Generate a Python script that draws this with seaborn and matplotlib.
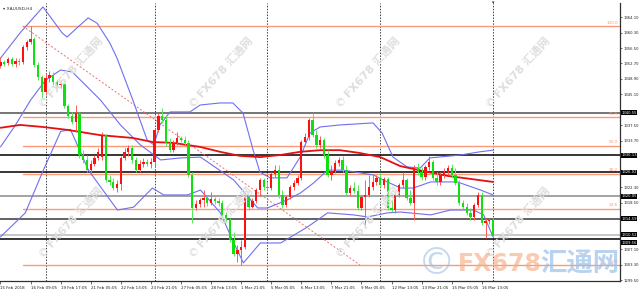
import numpy as np
import pandas as pd
import matplotlib
matplotlib.use("Agg")
import matplotlib.pyplot as plt
import seaborn as sns
from matplotlib.transforms import blended_transform_factory as btf

sns.set_style("white")
plt.rcParams['font.family'] = ['DejaVu Sans', 'Noto Sans CJK SC']

# ---------------- data (XAUUSD H4) ----------------
open_ = [1352.1,1353.1,1352.8,1353.8,1352.6,1353.3,1353.1,1356.8,1358.0,1358.7,
         1352.3,1349.4,1345.7,1349.1,1349.9,1348.2,1347.4,1347.7,1342.3,1339.8,
         1338.3,1340.5,1330.2,1329.0,1326.5,1328.0,1329.5,1329.7,1335.1,1324.1,
         1323.6,1322.1,1323.1,1329.5,1331.0,1331.9,1329.0,1326.5,1328.0,1328.5,
         1328.0,1328.5,1336.4,1339.8,1338.8,1333.2,1331.4,1333.2,1334.4,1333.9,
         1333.2,1325.3,1317.2,1318.2,1319.2,1319.7,1318.4,1319.4,1318.9,1318.4,
         1315.5,1314.2,1309.3,1305.9,1306.9,1307.6,1319.9,1317.4,1318.9,1321.6,
         1324.1,1322.4,1322.1,1325.5,1326.5,1320.4,1317.9,1319.9,1322.4,1323.3,
         1324.6,1333.4,1334.6,1338.8,1335.1,1332.7,1333.9,1330.2,1325.3,1326.3,
         1328.3,1329.0,1326.5,1320.9,1322.1,1321.4,1317.2,1319.9,1320.4,1322.4,
         1323.6,1324.6,1322.8,1324.3,1317.2,1316.7,1320.4,1322.8,1324.1,1319.7,
         1318.4,1327.0,1326.0,1324.8,1327.3,1328.5,1324.6,1323.6,1325.3,1326.0,
         1327.0,1325.3,1323.3,1318.4,1317.4,1316.0,1315.0,1317.9,1320.4,1313.5,
         1314.0,1314.2]
close = [1353.1,1352.6,1353.8,1352.6,1353.3,1353.1,1356.8,1358.0,1358.7,1352.3,
         1349.4,1345.7,1349.1,1349.9,1348.2,1347.4,1347.7,1342.3,1339.8,1338.3,
         1340.5,1330.2,1329.0,1326.5,1328.0,1329.5,1331.0,1335.1,1324.1,1323.6,
         1322.1,1323.1,1329.5,1331.0,1331.9,1329.0,1326.5,1328.0,1328.5,1328.0,
         1328.5,1336.4,1339.8,1338.8,1333.2,1331.4,1333.2,1334.4,1333.9,1333.2,
         1325.3,1317.2,1318.2,1319.2,1319.7,1318.4,1319.4,1318.9,1318.4,1315.5,
         1314.2,1309.3,1305.9,1306.9,1307.6,1319.9,1317.4,1318.9,1321.6,1324.1,
         1322.4,1322.1,1325.5,1326.5,1320.4,1317.9,1319.9,1322.4,1323.3,1324.6,
         1333.4,1334.6,1338.8,1335.1,1332.7,1333.9,1330.2,1325.3,1326.3,1328.3,
         1329.0,1326.5,1320.9,1322.1,1321.4,1317.2,1319.9,1320.4,1322.4,1323.6,
         1324.6,1322.8,1324.3,1317.2,1316.7,1320.4,1322.8,1324.1,1319.7,1318.4,
         1327.0,1326.0,1324.8,1327.3,1328.5,1324.6,1323.6,1325.3,1326.0,1327.0,
         1325.3,1323.3,1318.4,1317.4,1316.0,1315.0,1317.9,1320.4,1313.5,1314.0,
         1314.2,1310.3]
high = [1354.3,1353.6,1354.3,1354.3,1354.0,1354.0,1357.2,1358.5,1361.9,1359.2,
        1353.1,1349.9,1350.4,1350.9,1350.6,1348.6,1348.6,1348.2,1342.7,1340.8,
        1342.5,1340.8,1331.4,1330.2,1329.0,1330.2,1331.9,1335.9,1335.4,1325.3,
        1324.6,1324.1,1330.0,1331.9,1332.7,1332.7,1329.7,1329.0,1329.5,1329.2,
        1329.5,1336.9,1340.5,1341.8,1340.0,1334.4,1333.9,1335.9,1334.9,1334.9,
        1333.9,1326.0,1319.2,1319.7,1321.6,1319.9,1321.1,1319.9,1319.7,1319.2,
        1316.2,1314.7,1311.3,1308.1,1309.3,1320.4,1320.4,1319.7,1322.1,1324.6,
        1324.6,1323.6,1326.0,1327.8,1327.8,1321.6,1320.4,1322.8,1324.1,1325.3,
        1333.9,1335.6,1339.3,1340.5,1336.4,1334.9,1334.4,1331.4,1327.8,1329.0,
        1329.7,1330.0,1327.8,1322.8,1323.6,1322.8,1320.4,1324.1,1325.3,1325.3,
        1325.3,1326.0,1324.8,1324.8,1319.2,1321.1,1323.3,1326.0,1324.6,1321.6,
        1327.8,1328.3,1327.3,1327.8,1330.0,1329.0,1326.0,1326.0,1327.0,1327.8,
        1328.0,1327.0,1324.1,1319.2,1318.4,1317.2,1318.4,1321.1,1321.1,1314.7,
        1314.7,1314.7]
low = [1351.6,1352.1,1352.3,1352.1,1351.8,1352.3,1352.6,1356.0,1357.5,1351.8,
       1348.6,1344.2,1345.0,1348.2,1347.4,1346.7,1346.7,1341.8,1339.3,1337.8,
       1335.9,1329.5,1328.3,1326.0,1325.3,1327.5,1329.0,1329.0,1323.6,1322.8,
       1321.6,1321.1,1321.6,1329.0,1330.0,1328.3,1326.0,1326.0,1327.3,1327.5,
       1327.0,1327.3,1335.9,1338.1,1332.4,1331.0,1331.0,1332.7,1333.4,1332.7,
       1324.8,1313.5,1316.7,1317.4,1317.4,1317.7,1317.9,1318.2,1317.7,1315.0,
       1313.8,1308.8,1305.4,1303.9,1303.2,1307.1,1316.7,1317.2,1318.4,1320.1,
       1321.6,1321.6,1321.6,1324.8,1319.7,1317.2,1317.4,1319.4,1321.6,1322.8,
       1324.1,1332.7,1333.9,1334.6,1331.9,1331.9,1329.5,1324.8,1324.1,1325.8,
       1327.5,1326.0,1320.4,1320.1,1320.9,1316.7,1316.7,1313.0,1319.9,1321.6,
       1322.8,1322.4,1322.1,1316.7,1316.2,1316.0,1319.9,1322.1,1319.2,1317.9,
       1314.2,1325.3,1324.1,1324.1,1326.5,1324.1,1322.8,1322.8,1324.6,1325.3,
       1324.6,1322.8,1317.9,1317.0,1315.5,1314.2,1314.2,1317.4,1313.0,1309.8,
       1313.3,1310.1]

# moving average (red) sampled points
ma_bar = [0, 5.2, 11.3, 17.7, 26.5, 35.2, 40.5, 45.9, 53.1, 58.4, 63.7, 69, 74.3,
          79.7, 85, 90.3, 95.6, 101, 106.3, 109.7, 118.8, 131]
ma_val = [1336.9, 1337.6, 1337.1, 1336.4, 1335.1, 1334.4, 1333.4, 1333.2, 1332.2,
          1331.0, 1330.0, 1329.7, 1330.2, 1331.0, 1331.4, 1331.4, 1330.7, 1329.7,
          1327.5, 1326.8, 1325.1, 1323.6]
# Bollinger bands (blue) sampled points
bb_up_bar = [0, 5.2, 11.3, 16.4, 17.7, 20.3, 23.3, 25.7, 29.1, 31, 35.2, 39, 40.8,
             42.4, 45.1, 50.4, 53.1, 58.4, 61.8, 64.5, 67.2, 69, 71.7, 76.2, 79.7,
             82.3, 85, 90.3, 99.1, 101.5, 104.4, 108.1, 111.6, 114.2, 122.2, 127.5, 131]
bb_up_val = [1354.0, 1360.2, 1366.6, 1360.2, 1359.2, 1361.4, 1363.9, 1362.6, 1357.7,
             1354.0, 1343.7, 1333.9, 1332.7, 1337.6, 1340.8, 1340.8, 1342.5, 1343.0,
             1343.0, 1340.5, 1331.4, 1326.0, 1324.6, 1324.6, 1329.7, 1335.6, 1337.1,
             1337.6, 1338.1, 1335.6, 1329.7, 1327.3, 1327.0, 1329.5, 1330.2, 1331.0, 1331.4]
bb_mid_bar = [0, 4, 8, 12, 16, 19.1, 22.6, 26.6, 31.9, 37.2, 42.6, 47.9, 53.2, 62,
              68.4, 71, 76.3, 79.8, 83.2, 87, 91.2, 99.2, 102.9, 106.4, 109.8, 114.4,
              121.5, 127.7, 131]
bb_mid_val = [1332.2, 1337.6, 1343.7, 1348.6, 1351.1, 1350.6, 1347.4, 1343.7, 1337.6,
              1332.7, 1329.0, 1329.5, 1329.7, 1324.1, 1317.2, 1317.2, 1319.2, 1320.9,
              1323.3, 1326.5, 1326.5, 1325.3, 1323.6, 1322.1, 1322.1, 1323.6, 1323.6,
              1321.6, 1320.4]
bb_lo_bar = [0, 6.6, 11.4, 16, 18.6, 23.4, 26.6, 31.1, 35.4, 40.4, 43.4, 49.7, 53.2,
             58.5, 61.7, 64.6, 69.1, 74.5, 81.6, 87, 93.9, 97.6, 102.9, 106.4, 114.4,
             119.7, 125.8, 128.5, 131]
bb_lo_val = [1310.1, 1316.0, 1326.5, 1336.0, 1336.5, 1326.5, 1322.4, 1316.7, 1317.4,
             1322.1, 1320.4, 1320.4, 1321.6, 1316.0, 1309.3, 1303.7, 1308.6, 1308.6,
             1312.5, 1316.0, 1315.5, 1315.0, 1316.0, 1316.2, 1315.5, 1316.7, 1316.7,
             1315.5, 1310.1]

# horizontal support/resistance lines
hl_price = [1340.55, 1330.13, 1326.02, 1320.05, 1314.59, 1310.52, 1309.56]
hl_color = ['#505050', '#000000', '#000000', '#8a8a8a', '#383838', '#b8b8b8', '#000000']

# Fibonacci retracement
fib_high, fib_low = 1361.9, 1303.2
fib_start_bar, fib_end_bar = 5.9, 95.6
fib_levels = [100.0, 61.8, 50.0, 38.2, 23.6, 0.0]

# x axis labels and week separators
xlab_bar = [0, 8, 16, 24, 32, 40, 48, 56, 64, 72, 80, 88, 96, 104, 112, 120, 128]
xlab_txt = ["15 Feb 2018", "16 Feb 09:05", "19 Feb 17:05", "21 Feb 05:05", "22 Feb 13:05",
            "23 Feb 21:05", "27 Feb 05:05", "28 Feb 13:05", "1 Mar 21:05", "5 Mar 05:05",
            "6 Mar 13:05", "7 Mar 21:05", "9 Mar 05:05", "12 Mar 13:05", "13 Mar 21:05",
            "15 Mar 05:05", "16 Mar 13:05"]
sep_bar = [12, 41, 71, 101, 131]
ytick_vals = [1364.10, 1360.30, 1356.50, 1352.70, 1348.90, 1345.10, 1341.30, 1337.50,
              1333.70, 1329.90, 1326.10, 1322.30, 1318.50, 1314.70, 1310.90, 1307.10,
              1303.30, 1299.50]

# ---------------- figure ----------------
W, H = 640, 300
fig = plt.figure(figsize=(6.4, 3.0), dpi=100)
fig.patch.set_facecolor('white')
ax = fig.add_axes([0, 19 / H, 620 / W, 278 / H])
ax.set_facecolor('white')
ax.set_xlim(-0.13, 164.76)
ax.set_ylim(1299.26, 1367.56)

df = pd.DataFrame({'bar': np.arange(len(close)), 'open': open_, 'high': high,
                   'low': low, 'close': close})
up = df['close'] >= df['open']

# watermarks (small, repeated)
for wx in [43, 193, 340, 490]:
    for wy in [103, 253]:
        fig.text(wx / W, 1 - wy / H, '©', fontsize=8, color='#dcdcdc',
                 ha='center', va='center', zorder=0)
        fig.text((wx + 7) / W, 1 - (wy - 7) / H, 'FX678 汇通网', fontsize=8,
                 fontweight='bold', color='#dedede', rotation=48,
                 rotation_mode='anchor', ha='left', va='center', zorder=0)

# separators
for b in sep_bar:
    ax.axvline(b, color='#404040', lw=0.7, ls=(0, (1.5, 1.5)), zorder=1)

# horizontal lines
for p, c in zip(hl_price, hl_color):
    ax.axhline(p, color=c, lw=1.1, zorder=2)

# fibonacci
fib_col = '#fa9a78'
for lv in fib_levels:
    p = fib_low + (fib_high - fib_low) * lv / 100
    ax.plot([fib_start_bar, 170], [p, p], color=fib_col, lw=1.0, zorder=2)
    ax.text(0.997, p + 0.3, f"{lv:.1f}", transform=btf(ax.transAxes, ax.transData),
            ha='right', va='bottom', fontsize=3.0, color=fib_col, zorder=3)
ax.plot([fib_start_bar, fib_end_bar], [fib_high, fib_low], color='#f07070',
        lw=0.7, ls=(0, (2, 2)), zorder=2)

# bollinger bands and MA via seaborn
bb_col = '#6f6ff0'
for bx, by in [(bb_up_bar, bb_up_val), (bb_mid_bar, bb_mid_val), (bb_lo_bar, bb_lo_val)]:
    sns.lineplot(x=bx, y=by, ax=ax, color=bb_col, lw=0.8, zorder=3, sort=False,
                 estimator=None)
sns.lineplot(x=ma_bar, y=ma_val, ax=ax, color='#e41010', lw=1.3, zorder=3,
             sort=False, estimator=None)

# candles
red, green = '#ff1010', '#10e010'
cols = np.where(up, red, green)
wick_cols = np.where(up, '#ff5a5a', '#5ae85a')
ax.vlines(df['bar'], df['low'], df['high'], colors=wick_cols, lw=0.7, zorder=4)
body_lo = np.minimum(df['open'], df['close'])
body_h = np.maximum(np.abs(df['close'] - df['open']), 0.15)
ax.bar(df['bar'], body_h, bottom=body_lo, width=0.62, color=cols, lw=0, zorder=5)

# axes styling
for s in ['top', 'left']:
    ax.spines[s].set_visible(False)
for s in ['bottom', 'right']:
    ax.spines[s].set_color('#303030')
    ax.spines[s].set_linewidth(0.9)

ax.set_xticks(xlab_bar)
ax.set_xticklabels(xlab_txt, fontsize=2.9, color='#202020')
for lbl in ax.get_xticklabels():
    lbl.set_horizontalalignment('left')
ax.tick_params(axis='x', length=2.5, width=0.5, color='#303030', pad=1.2, bottom=True)

# y tick labels; those hidden under the line-price boxes are left blank
ax.yaxis.tick_right()
ax.set_yticks(ytick_vals)
ylabels = []
for v in ytick_vals:
    hidden = any(abs(v - p) < 1.0 for p in hl_price)
    ylabels.append('' if hidden else f"{v:.2f}")
ax.set_yticklabels(ylabels, fontsize=2.7, color='#202020')
ax.tick_params(axis='y', length=1.5, width=0.5, color='#303030', pad=0.8, right=True)

# price boxes for horizontal lines
box_va = ['center', 'center', 'center', 'center', 'center', 'bottom', 'top']
box_off = [0, 0, 0, 0, 0, -0.35, -0.35]
for p, va, off in zip(hl_price, box_va, box_off):
    ax.text(1.002, p + off, f"{p:.2f}", transform=btf(ax.transAxes, ax.transData),
            ha='left', va=va, fontsize=2.7, color='white', clip_on=False,
            zorder=10, bbox=dict(boxstyle='square,pad=0.12', fc='black', ec='none'))

# title label
fig.text(3 / W, 1 - 9 / H, '▾ XAUUSD,H4', fontsize=3.2, color='#303030',
         ha='left', va='center')
fig.text(493 / W, 1 - 3 / H, '▾', fontsize=3.5, color='#303030', ha='center', va='center')

# large bottom watermark
fig.text(437 / W, 1 - 264 / H, '©', fontsize=27, color='#9fbfe6', alpha=0.6,
         ha='center', va='center')
fig.text(458 / W, 1 - 264 / H, 'FX678', fontsize=17, fontweight='bold',
         color='#f7ae84', alpha=0.65, ha='left', va='center')
fig.text(580 / W, 1 - 264 / H, '汇通网', fontsize=19, fontweight='bold',
         color='#9cbfe8', alpha=0.7, ha='center', va='center',
         family=['Noto Sans CJK SC', 'DejaVu Sans'])

fig.savefig('out.png', dpi=100, facecolor='white')
